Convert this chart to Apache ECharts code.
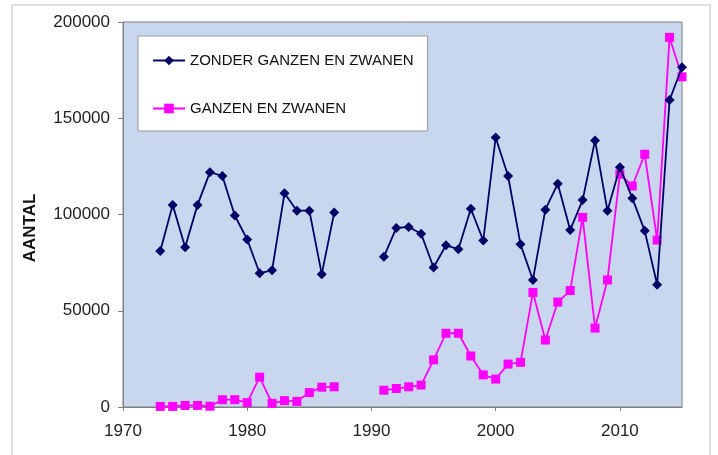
<!DOCTYPE html>
<html>
<head>
<meta charset="utf-8">
<title>Aantal</title>
<script src="https://cdn.jsdelivr.net/npm/echarts@6/dist/echarts.min.js"></script>
<style>
  html, body { margin: 0; padding: 0; background: #fff; }
  #div_echarts { width: 718px; height: 455px; }
</style>
</head>
<body>
<div id="div_echarts"></div>
<script>
// jaren 1973 - 2015, geen telling 1988-1990
var jaren = [1973, 1974, 1975, 1976, 1977, 1978, 1979, 1980, 1981, 1982,
             1983, 1984, 1985, 1986, 1987, 1988, 1989, 1990, 1991, 1992,
             1993, 1994, 1995, 1996, 1997, 1998, 1999, 2000, 2001, 2002,
             2003, 2004, 2005, 2006, 2007, 2008, 2009, 2010, 2011, 2012,
             2013, 2014, 2015];

var zonderGanzen = [81000, 105000, 83000, 105000, 122000, 120000, 99500, 87000, 69500, 71000,
                    111000, 102000, 102000, 69000, 101000, null, null, null, 78000, 93000,
                    93500, 90000, 72500, 84000, 82000, 103000, 86500, 140000, 120000, 84500,
                    66000, 102500, 116000, 92000, 107500, 138500, 102000, 124500, 108500, 91500,
                    63500, 159500, 176500];

var ganzenZwanen = [300, 300, 800, 800, 400, 3800, 3800, 2300, 15500, 1900,
                    3300, 2900, 7500, 10300, 10500, null, null, null, 8700, 9600,
                    10500, 11400, 24500, 38300, 38300, 26500, 16700, 14500, 22300, 23200,
                    59500, 34800, 54500, 60500, 98500, 41000, 66000, 121000, 114800, 131300,
                    86700, 192000, 171500];

var yTicks = [0, 50000, 100000, 150000, 200000];

var toPairs = function (values) {
    return jaren.map(function (j, i) { return [j, values[i]]; });
};

var initEcharts = function () {
    var myChart = echarts.init(document.getElementById("div_echarts"));
    var labelFont = 'Liberation Sans, Arial, sans-serif';
    var option = {
        animation: false,
        backgroundColor: '#ffffff',
        textStyle: { fontFamily: labelFont },
        graphic: [
            {
                type: 'rect',
                shape: { x: 12, y: 5, width: 698, height: 470 },
                style: { fill: 'none', stroke: '#d4d4d4', lineWidth: 1.5 },
                z: -10
            },
            {
                type: 'text',
                x: 30,
                y: 228,
                rotation: Math.PI / 2,
                style: {
                    text: 'AANTAL',
                    fill: '#111',
                    font: 'bold 17px ' + labelFont,
                    textAlign: 'center',
                    textVerticalAlign: 'middle'
                }
            }
        ],
        grid: {
            left: 123,
            right: 36,
            top: 22,
            bottom: 48,
            show: true,
            backgroundColor: '#c8d7ed',
            borderColor: '#7f7f7f',
            borderWidth: 1
        },
        legend: {
            orient: 'vertical',
            left: 138,
            top: 36,
            width: 260,
            padding: [17, 14, 15, 14],
            itemWidth: 32,
            itemHeight: 12,
            itemGap: 33,
            backgroundColor: '#ffffff',
            borderColor: '#9a9a9a',
            borderWidth: 1,
            textStyle: { fontSize: 15, color: '#111', fontFamily: labelFont, width: 246 },
            data: ['ZONDER GANZEN EN ZWANEN', 'GANZEN EN ZWANEN']
        },
        xAxis: {
            type: 'value',
            min: 1970,
            max: 2015,
            interval: 10,
            splitLine: { show: false },
            axisLine: { show: true, lineStyle: { color: '#7f7f7f' } },
            axisTick: { show: true, length: 4, lineStyle: { color: '#7f7f7f' } },
            axisLabel: {
                margin: 16,
                fontSize: 17,
                color: '#222',
                showMaxLabel: false,
                formatter: function (v) { return String(v); }
            }
        },
        yAxis: {
            type: 'value',
            min: yTicks[0],
            max: yTicks[yTicks.length - 1],
            interval: 50000,
            splitLine: { show: false },
            axisLine: { show: true, lineStyle: { color: '#7f7f7f' } },
            axisTick: { show: true, length: 5, lineStyle: { color: '#7f7f7f' } },
            axisLabel: {
                margin: 13,
                fontSize: 17,
                color: '#222',
                formatter: function (v) { return String(v); }
            }
        },
        series: [
            {
                name: 'ZONDER GANZEN EN ZWANEN',
                type: 'line',
                data: toPairs(zonderGanzen),
                symbol: 'diamond',
                symbolSize: 10,
                lineStyle: { color: '#000066', width: 1.8 },
                itemStyle: { color: '#000066' },
                z: 3
            },
            {
                name: 'GANZEN EN ZWANEN',
                type: 'line',
                data: toPairs(ganzenZwanen),
                symbol: 'rect',
                symbolSize: 9,
                lineStyle: { color: '#ff00ff', width: 1.8 },
                itemStyle: { color: '#ff00ff' },
                z: 2
            }
        ]
    };
    myChart.setOption(option);
};

initEcharts();
</script>
</body>
</html>
